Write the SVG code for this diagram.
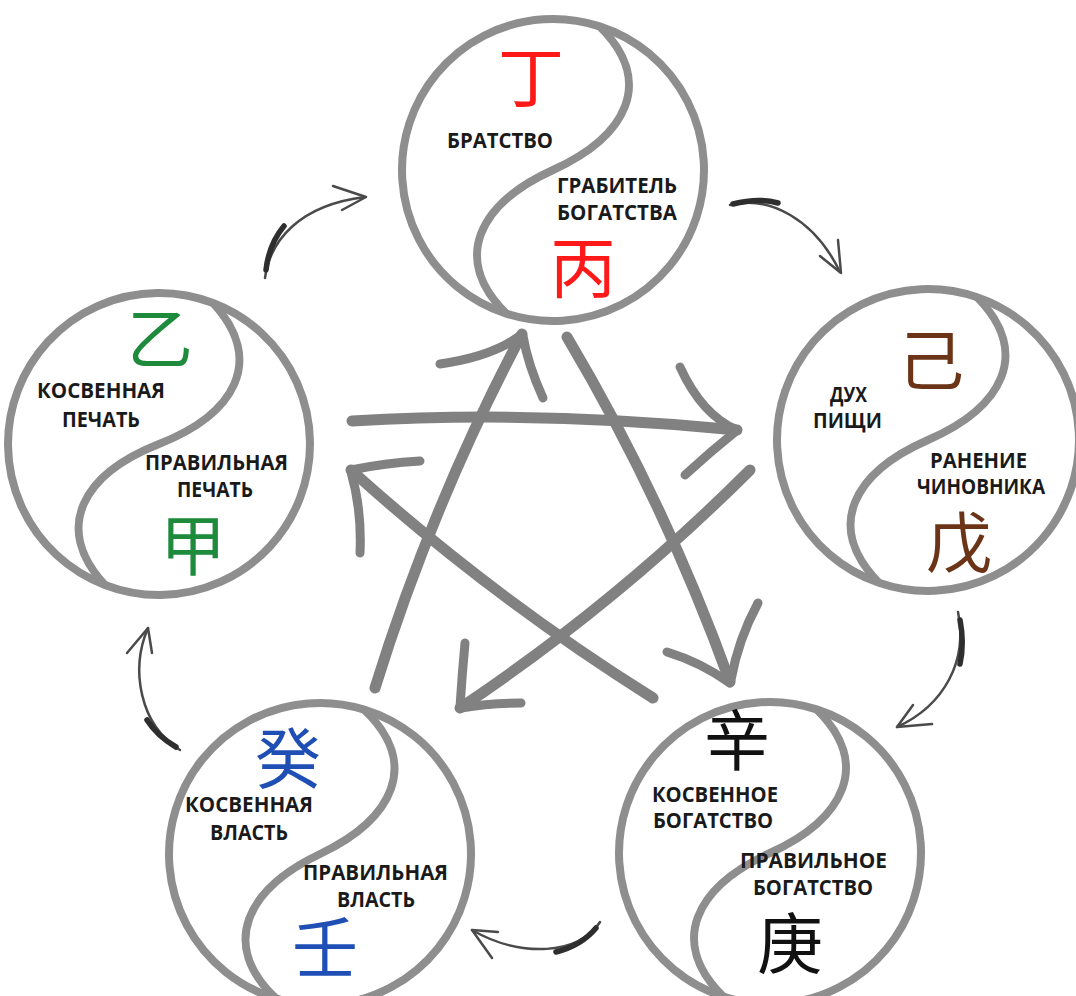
<svg xmlns="http://www.w3.org/2000/svg" xmlns:xlink="http://www.w3.org/1999/xlink" width="1076" height="996" viewBox="0 0 1076 996">
<style>
.ring{fill:none;stroke:#8e8e8e;stroke-width:8}
.lbl{font-family:"Open Sans","Noto Sans","Liberation Sans",sans-serif;font-weight:700;font-size:21px;fill:#1a1a1a}
.cjk{font-family:"Noto Sans CJK SC","Noto Sans CJK JP",sans-serif;font-size:66px;text-anchor:middle}
.star{fill:none;stroke:#818181;stroke-width:11;stroke-linecap:round;stroke-linejoin:round}
.barb{stroke-width:9}
.sm{fill:none;stroke:#4a4a4a;stroke-width:2.5;stroke-linecap:round;stroke-linejoin:round}
.smk{stroke:#2e2e2e;stroke-width:5.5}
</style>
<defs>
<g id="yy">
<circle class="ring" cx="0" cy="0" r="151"/>
<path class="ring" d="M0,-151 C70,-116 60,-55 0,0 C-60,55 -70,116 0,151"/>
</g>
</defs>
<rect width="1076" height="996" fill="#ffffff"/>

<g id="connectors">
<!-- pentagram -->
<path class="star" d="M375,688 Q432,504 522,334"/>
<path class="star barb" d="M440,364 Q495,356 522,334"/>
<path class="star barb" d="M543,398 Q528,365 523,336"/>
<path class="star" d="M567,337 Q665,502 730,682"/>
<path class="star barb" d="M667,652 Q700,662 730,683"/>
<path class="star barb" d="M758,603 Q738,640 731,680"/>
<path class="star" d="M750,470 Q617,603 460,708"/>
<path class="star barb" d="M465,643 Q462,675 460,707"/>
<path class="star barb" d="M521,703 Q490,703 461,708"/>
<path class="star" d="M653,698 Q492,597 351,470"/>
<path class="star barb" d="M420,461 Q385,463 351,470"/>
<path class="star barb" d="M360,553 Q362,510 351,472"/>
<path class="star" d="M352,421 Q540,410 737,430"/>
<path class="star barb" d="M680,367 Q702,415 737,430"/>
<path class="star barb" d="M685,475 Q710,452 735,432"/>
<!-- small curved arrows -->
<path class="sm" d="M265,278 C270,240 300,205 365,197"/>
<path class="sm smk" d="M266,270 C268,252 274,238 284,226"/>
<path class="sm" d="M333,186 L366,197 L342,210"/>
<path class="sm" d="M730,205 C770,195 815,220 840,272"/>
<path class="sm smk" d="M733,204 C748,200 764,199 778,203"/>
<path class="sm" d="M838,240 L841,273 L820,256"/>
<path class="sm" d="M958,612 C968,660 945,705 897,727"/>
<path class="sm smk" d="M960,620 C963,635 963,650 960,664"/>
<path class="sm" d="M913,705 L897,727 L932,724"/>
<path class="sm" d="M600,922 C580,955 520,958 472,930"/>
<path class="sm smk" d="M596,928 C586,940 572,948 556,952"/>
<path class="sm" d="M498,932 L472,930 L492,958"/>
<path class="sm" d="M180,750 C140,725 130,670 148,628"/>
<path class="sm smk" d="M176,747 C164,740 154,731 147,720"/>
<path class="sm" d="M127,653 L148,628 L152,653"/>
</g>

<g id="node-fire">
<use xlink:href="#yy" href="#yy" transform="translate(553,170) rotate(18)"/>
<text class="cjk" x="531" y="102" fill="#ff1a1a">丁</text>
<text class="lbl" x="447" y="148" textLength="106" lengthAdjust="spacingAndGlyphs">БРАТСТВО</text>
<text class="lbl" x="557" y="193" textLength="120" lengthAdjust="spacingAndGlyphs">ГРАБИТЕЛЬ</text>
<text class="lbl" x="557" y="220" textLength="120" lengthAdjust="spacingAndGlyphs">БОГАТСТВА</text>
<text class="cjk" x="583" y="292" fill="#ff1a1a">丙</text>
</g>

<g id="node-earth">
<use xlink:href="#yy" href="#yy" transform="translate(928,440) rotate(19)"/>
<text class="cjk" x="931" y="385" fill="#6b3417">己</text>
<text class="lbl" x="830" y="402" textLength="37" lengthAdjust="spacingAndGlyphs">ДУХ</text>
<text class="lbl" x="813" y="428" textLength="69" lengthAdjust="spacingAndGlyphs">ПИЩИ</text>
<text class="lbl" x="930" y="468" textLength="97" lengthAdjust="spacingAndGlyphs">РАНЕНИЕ</text>
<text class="lbl" x="917" y="494" textLength="128" lengthAdjust="spacingAndGlyphs">ЧИНОВНИКА</text>
<text class="cjk" x="959" y="567" fill="#6b3417">戊</text>
</g>

<g id="node-wood">
<use xlink:href="#yy" href="#yy" transform="translate(159,444) rotate(21)"/>
<text class="cjk" x="160" y="363" fill="#1e8a3c">乙</text>
<text class="lbl" x="37" y="398" textLength="128" lengthAdjust="spacingAndGlyphs">КОСВЕННАЯ</text>
<text class="lbl" x="62" y="427" textLength="78" lengthAdjust="spacingAndGlyphs">ПЕЧАТЬ</text>
<text class="lbl" x="145" y="470" textLength="143" lengthAdjust="spacingAndGlyphs">ПРАВИЛЬНАЯ</text>
<text class="lbl" x="177" y="497" textLength="76" lengthAdjust="spacingAndGlyphs">ПЕЧАТЬ</text>
<text class="cjk" x="193" y="570" fill="#1e8a3c">甲</text>
</g>

<g id="node-water">
<use xlink:href="#yy" href="#yy" transform="translate(320,854) rotate(17)"/>
<text class="cjk" x="288" y="783" fill="#1f4fb5">癸</text>
<text class="lbl" x="185" y="812" textLength="128" lengthAdjust="spacingAndGlyphs">КОСВЕННАЯ</text>
<text class="lbl" x="210" y="840" textLength="78" lengthAdjust="spacingAndGlyphs">ВЛАСТЬ</text>
<text class="lbl" x="303" y="880" textLength="145" lengthAdjust="spacingAndGlyphs">ПРАВИЛЬНАЯ</text>
<text class="lbl" x="337" y="907" textLength="78" lengthAdjust="spacingAndGlyphs">ВЛАСТЬ</text>
<text class="cjk" x="325" y="972" fill="#1f4fb5">壬</text>
</g>

<g id="node-metal">
<use xlink:href="#yy" href="#yy" transform="translate(770,853) rotate(18)"/>
<text class="cjk" x="737" y="765" fill="#111111">辛</text>
<text class="lbl" x="652" y="802" textLength="126" lengthAdjust="spacingAndGlyphs">КОСВЕННОЕ</text>
<text class="lbl" x="653" y="828" textLength="120" lengthAdjust="spacingAndGlyphs">БОГАТСТВО</text>
<text class="lbl" x="740" y="868" textLength="147" lengthAdjust="spacingAndGlyphs">ПРАВИЛЬНОЕ</text>
<text class="lbl" x="753" y="895" textLength="120" lengthAdjust="spacingAndGlyphs">БОГАТСТВО</text>
<text class="cjk" x="790" y="968" fill="#111111">庚</text>
</g>
</svg>
